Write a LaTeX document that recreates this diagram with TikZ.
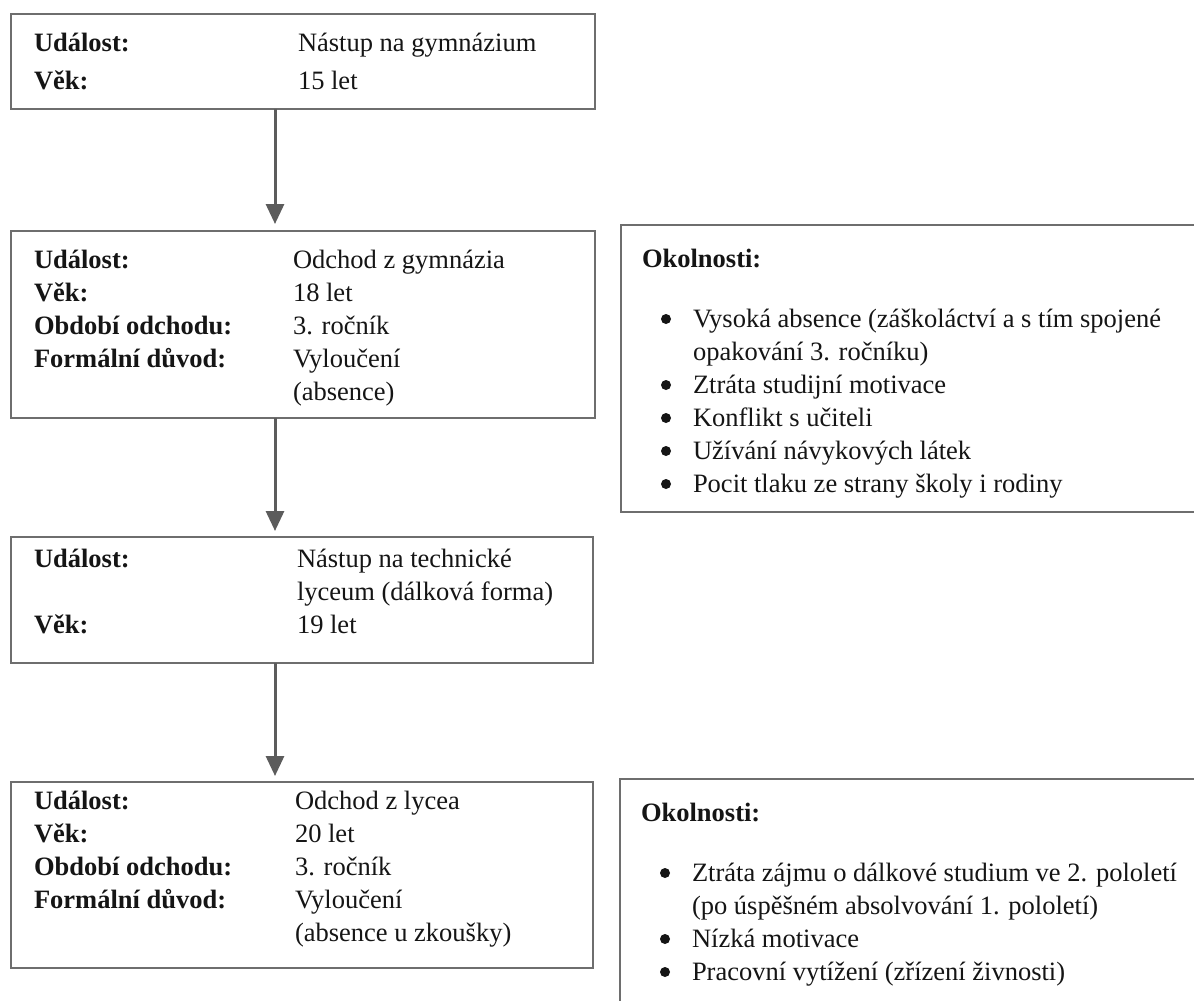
\documentclass[tikz,border=0pt]{standalone}
\usepackage{fontspec}
\setmainfont{Liberation Serif}
\usetikzlibrary{arrows.meta,calc}
\definecolor{boxgray}{HTML}{6E6E6E}
\definecolor{arrgray}{HTML}{5C5C5C}
\definecolor{txt}{HTML}{151515}
\begin{document}
\begin{tikzpicture}[x=1pt,y=-1pt,
  every node/.style={inner sep=0pt, outer sep=0pt, text=txt, font=\fontsize{26.5}{33}\selectfont},
  box/.style={draw=boxgray, line width=1.5pt, anchor=north west, rectangle},
  lbl/.style={anchor=base west, font=\fontsize{26.5}{33}\selectfont\bfseries},
  val/.style={anchor=base west},
  arr/.style={draw=arrgray, line width=3pt, -{Triangle[length=20pt,width=18pt]}},
  bul/.style={circle, fill=txt, minimum size=10pt}
]
\clip (0,0) rectangle (1194,1001);
\fill[white] (0,0) rectangle (1194,1001);
\coordinate (ax) at (275,0);

% box 1
\node[box, minimum width=584pt, minimum height=95pt] (b1) at (11,14) {};
\node[lbl] (b1l1) at (34,51) {Událost:};
\node[val] (b1v1) at (298,51) {Nástup na gymnázium};
\node[lbl] (b1l2) at (34,89) {Věk:};
\node[val] (b1v2) at (298,89) {15 let};

% box 2
\node[box, minimum width=584pt, minimum height=187pt] (b2) at (11,231) {};
\node[lbl] (b2l1) at (34,268) {Událost:};
\node[val] (b2v1) at (293,268) {Odchod z gymnázia};
\node[lbl] (b2l2) at (34,301) {Věk:};
\node[val] (b2v2) at (293,301) {18 let};
\node[lbl] (b2l3) at (34,334) {Období odchodu:};
\node[val] (b2v3) at (293,334) {3. ročník};
\node[lbl] (b2l4) at (34,367) {Formální důvod:};
\node[val] (b2v4) at (293,367) {Vyloučení};
\node[val] (b2v5) at (293,400) {(absence)};

% box 3
\node[box, minimum width=582pt, minimum height=126pt] (b3) at (11,537) {};
\node[lbl] (b3l1) at (34,567) {Událost:};
\node[val] (b3v1) at (297,567) {Nástup na technické};
\node[val] (b3v2) at (297,600) {lyceum (dálková forma)};
\node[lbl] (b3l2) at (34,633) {Věk:};
\node[val] (b3v3) at (297,633) {19 let};

% box 4
\node[box, minimum width=582pt, minimum height=186pt] (b4) at (11,782) {};
\node[lbl] (b4l1) at (34,809) {Událost:};
\node[val] (b4v1) at (295,809) {Odchod z lycea};
\node[lbl] (b4l2) at (34,842) {Věk:};
\node[val] (b4v2) at (295,842) {20 let};
\node[lbl] (b4l3) at (34,875) {Období odchodu:};
\node[val] (b4v3) at (295,875) {3. ročník};
\node[lbl] (b4l4) at (34,908) {Formální důvod:};
\node[val] (b4v4) at (295,908) {Vyloučení};
\node[val] (b4v5) at (295,941) {(absence u zkoušky)};

% arrows
\draw[arr] (b1.south -| ax) -- ($(b2.north -| ax)+(0,-7)$);
\draw[arr] (b2.south -| ax) -- ($(b3.north -| ax)+(0,-6)$);
\draw[arr] (b3.south -| ax) -- ($(b4.north -| ax)+(0,-6)$);

% right box 1
\node[box, minimum width=600pt, minimum height=287pt] (r1) at (621,225) {};
\node[lbl] (r1h) at (642,267) {Okolnosti:};
\node[bul] (r1b1) at (666,319) {};
\node[val] (r1t1) at (693,327) {Vysoká absence (záškoláctví a s tím spojené};
\node[val] (r1t1b) at (693,360) {opakování 3. ročníku)};
\node[bul] (r1b2) at (666,385) {};
\node[val] (r1t2) at (693,393) {Ztráta studijní motivace};
\node[bul] (r1b3) at (666,418) {};
\node[val] (r1t3) at (693,426) {Konflikt s učiteli};
\node[bul] (r1b4) at (666,451) {};
\node[val] (r1t4) at (693,459) {Užívání návykových látek};
\node[bul] (r1b5) at (666,484) {};
\node[val] (r1t5) at (693,492) {Pocit tlaku ze strany školy i rodiny};

% right box 2
\node[box, minimum width=600pt, minimum height=240pt] (r2) at (620,779) {};
\node[lbl] (r2h) at (641,821) {Okolnosti:};
\node[bul] (r2b1) at (665,873) {};
\node[val] (r2t1) at (692,881) {Ztráta zájmu o dálkové studium ve 2. pololetí};
\node[val] (r2t1b) at (692,914) {(po úspěšném absolvování 1. pololetí)};
\node[bul] (r2b2) at (665,939) {};
\node[val] (r2t2) at (692,947) {Nízká motivace};
\node[bul] (r2b3) at (665,972) {};
\node[val] (r2t3) at (692,980) {Pracovní vytížení (zřízení živnosti)};
\end{tikzpicture}
\end{document}
